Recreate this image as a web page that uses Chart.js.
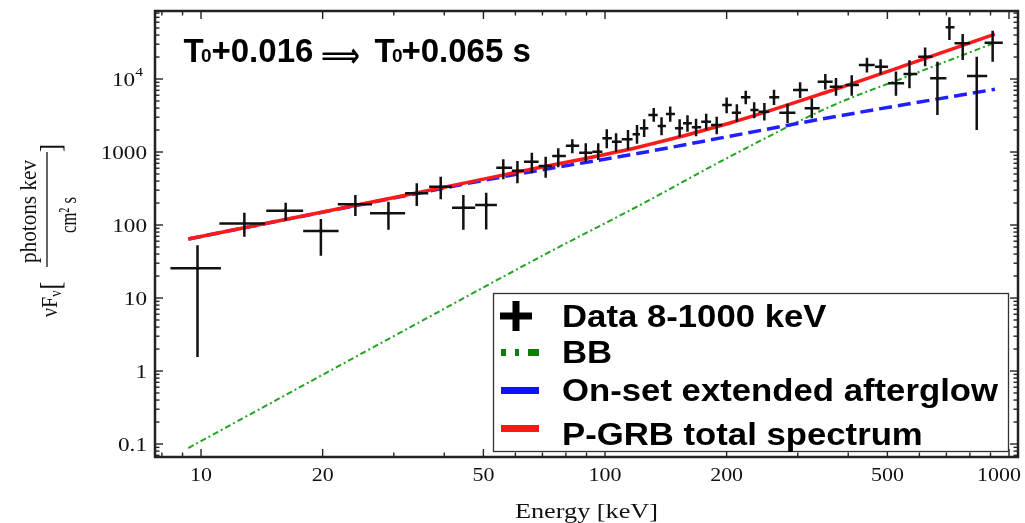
<!DOCTYPE html>
<html>
<head>
<meta charset="utf-8">
<script src="https://cdn.jsdelivr.net/npm/chart.js@4.4.1/dist/chart.umd.min.js"></script>
<style>
  html, body { margin: 0; padding: 0; background: #fff; }
  #c { display: block; }
</style>
</head>
<body>
<canvas id="c" width="1025" height="523"></canvas>
<script>
// measured spectrum (keV, nuFnu) with error bars
const energy   = [9.8, 12.8, 16.2, 19.8, 24.1, 29.1, 34.2, 39.2, 44.6, 50.8, 56.0, 60.7, 65.9, 71.3, 76.6, 83.0, 89.6, 96.2, 101, 106.5, 114, 120, 125, 132, 138, 145, 153, 160, 168, 178, 189, 200, 212, 223, 234, 248, 262, 283, 304, 325, 351, 373, 408, 445, 481, 525, 567, 620, 665, 712, 768, 832, 911];
const flux     = [25.5, 105, 157, 83, 192, 145, 272, 335, 173, 188, 609, 554, 736, 643, 881, 1222, 979, 1009, 1541, 1384, 1493, 1750, 2113, 3213, 2271, 3318, 2113, 2472, 2179, 2600, 2344, 4403, 3456, 5613, 3759, 3570, 5613, 3456, 7070, 3966, 9183, 7852, 8275, 15560, 14750, 8730, 11710, 20220, 10220, 51050, 30830, 10990, 31420];
const energyLo = [8.4, 11.1, 14.5, 17.9, 21.8, 26.2, 32.0, 36.7, 41.8, 47.7, 53.8, 58.8, 63.0, 68.5, 74.0, 80.0, 86.3, 93.0, 98.5, 104, 110, 117, 122, 128, 135, 141.5, 149, 156, 164, 173, 183, 195, 206, 217, 229, 240, 255, 270, 292, 312, 336, 360, 394, 425, 466, 502, 548, 596, 638, 697, 733, 787, 870];
const energyHi = [11.2, 14.4, 17.9, 21.9, 26.5, 32.0, 36.5, 41.8, 47.7, 54.0, 58.9, 63.0, 68.5, 74.0, 80.0, 86.3, 93.0, 98.5, 104, 110, 117, 122, 128, 135, 141.5, 149, 156, 164, 173, 183, 195, 206, 217, 229, 240, 255, 270, 296, 318, 340, 366, 387, 425, 465, 502, 550, 593, 647, 700, 733, 801, 883, 965];
const fluxLo   = [1.56, 69, 115, 38, 133, 86, 182, 225, 86, 87, 423, 372, 511, 444, 617, 960, 736, 777, 1124, 1009, 1070, 1300, 1600, 2600, 1700, 2600, 1600, 1900, 1650, 2000, 1750, 3400, 2600, 4500, 2900, 2700, 4400, 2500, 5500, 2900, 7200, 5900, 5900, 12300, 11500, 5900, 7500, 15000, 3213, 34200, 18200, 2000, 17270];
const fluxHi   = [53, 147, 202, 121, 258, 208, 372, 459, 258, 277, 794, 753, 977, 863, 1124, 1493, 1315, 1315, 2047, 1803, 2000, 2350, 2800, 4000, 3000, 4200, 2800, 3200, 2850, 3350, 3050, 5600, 4500, 6900, 4800, 4700, 7100, 4600, 9000, 5400, 11700, 10300, 11300, 19500, 18700, 12700, 18000, 27000, 17270, 69980, 41300, 20220, 45900];

// model curves
const bbEnergy  = [9.3, 32, 73.1, 122.2, 200, 360.5, 568.8, 923];
const bbFlux    = [0.0881, 3.65, 43.1, 188, 820, 4174, 11200, 31400];
const agEnergy  = [9.3, 31.8, 55, 122.2, 203.9, 360.5, 923];
const agFlux    = [64.3, 249.6, 451, 969, 1646, 2971, 7228];
const totEnergy = [9.3, 17.6, 31.8, 61.6, 122.2, 203.9, 360.5, 537.6, 923];
const totFlux   = [64.3, 130.7, 253.6, 540, 1183, 2500, 6850, 14560, 41320];

// axes
const xMajor  = [10, 20, 50, 100, 200, 500, 1000];
const xLabels = ['10', '20', '50', '100', '200', '500', '1000'];
const yMajor  = [0.1, 1, 10, 100, 1000, 10000];
const yLabels = ['0.1', '1', '10', '100', '1000', '10'];
const ySup    = ['', '', '', '', '', '4'];
const xMin = 7.692, xMax = 1052.6;
const yMin = 0.0664, yMax = 85430;

const legendItems = ['Data 8-1000 keV', 'BB', 'On-set extended afterglow', 'P-GRB total spectrum'];

const xMinor = [];
[1, 10, 100].forEach(d => { for (let m = 1; m < 10; m++) { const v = m * d; if (v > xMin && v < xMax && !xMajor.includes(v)) xMinor.push(v); } });
const yMinor = [];
[0.01, 0.1, 1, 10, 100, 1000, 10000].forEach(d => { for (let m = 2; m < 10; m++) { const v = m * d; if (v > yMin && v < yMax) yMinor.push(v); } });

const toXY = (xs, ys) => xs.map((x, i) => ({ x: x, y: ys[i] }));

// text drawn with horizontal stretch
function sText(ctx, txt, x, y, sx, align) {
  const m = ctx.measureText(txt).width * sx;
  const x0 = align === 'center' ? x - m / 2 : align === 'right' ? x - m : x;
  ctx.save();
  ctx.translate(x0, y);
  ctx.scale(sx, 1);
  ctx.textAlign = 'left';
  ctx.fillText(txt, 0, 0);
  ctx.restore();
  return m;
}
function fitText(ctx, txt, x, y, w) {
  const m = ctx.measureText(txt).width;
  return sText(ctx, txt, x, y, w / m, 'left');
}

const framePlugin = {
  id: 'frame',
  beforeDraw(chart) {
    const ctx = chart.ctx;
    ctx.save();
    ctx.fillStyle = '#fff';
    ctx.fillRect(0, 0, chart.width, chart.height);
    ctx.restore();
  },
  afterDatasetsDraw(chart) {
    // error bars
    const ctx = chart.ctx, xs = chart.scales.x, ys = chart.scales.y, a = chart.chartArea;
    ctx.save();
    ctx.beginPath();
    ctx.rect(a.left, a.top, a.right - a.left, a.bottom - a.top);
    ctx.clip();
    ctx.strokeStyle = '#111';
    ctx.lineWidth = 2.5;
    energy.forEach((e, i) => {
      const px = xs.getPixelForValue(e), py = ys.getPixelForValue(flux[i]);
      ctx.beginPath();
      ctx.moveTo(xs.getPixelForValue(energyLo[i]), py);
      ctx.lineTo(xs.getPixelForValue(energyHi[i]), py);
      ctx.moveTo(px, ys.getPixelForValue(fluxLo[i]));
      ctx.lineTo(px, ys.getPixelForValue(fluxHi[i]));
      ctx.stroke();
    });
    ctx.restore();
  },
  afterDraw(chart) {
    const ctx = chart.ctx, xs = chart.scales.x, ys = chart.scales.y, a = chart.chartArea;
    ctx.save();

    // frame
    ctx.strokeStyle = '#222';
    ctx.lineWidth = 2.5;
    ctx.strokeRect(a.left, a.top, a.right - a.left, a.bottom - a.top);

    // inward ticks on all four sides
    ctx.lineWidth = 1.4;
    const tick = (x1, y1, x2, y2) => { ctx.beginPath(); ctx.moveTo(x1, y1); ctx.lineTo(x2, y2); ctx.stroke(); };
    xMajor.concat(xMinor).forEach(v => {
      const px = xs.getPixelForValue(v), len = xMajor.includes(v) ? 8 : 4.5;
      tick(px, a.bottom, px, a.bottom - len);
      tick(px, a.top, px, a.top + len);
    });
    yMajor.concat(yMinor).forEach(v => {
      const py = ys.getPixelForValue(v), len = yMajor.includes(v) ? 8 : 4.5;
      tick(a.left, py, a.left + len, py);
      tick(a.right, py, a.right - len, py);
    });

    // tick labels
    ctx.fillStyle = '#111';
    ctx.textBaseline = 'alphabetic';
    ctx.font = '18px "Liberation Serif"';
    xMajor.forEach((v, i) => {
      const w = ctx.measureText(xLabels[i]).width * 1.22;
      const cx = Math.min(xs.getPixelForValue(v), chart.width - 4 - w / 2);
      sText(ctx, xLabels[i], cx, 481, 1.22, 'center');
    });
    yMajor.forEach((v, i) => {
      const py = ys.getPixelForValue(v);
      let right = 147;
      if (ySup[i]) {
        ctx.font = '13px "Liberation Serif"';
        right -= sText(ctx, ySup[i], 143, py - 3, 1.2, 'right') + 4;
      }
      ctx.font = '19px "Liberation Serif"';
      sText(ctx, yLabels[i], right, py + 6.5, 1.22, 'right');
    });

    // x axis title
    ctx.font = '21px "Liberation Serif"';
    sText(ctx, 'Energy [keV]', (a.left + a.right) / 2, 518, 1.25, 'center');

    // y axis title (rotated, with fraction)
    ctx.save();
    ctx.rotate(-Math.PI / 2);
    ctx.scale(1, 1.2);
    const k = 1 / 1.2;
    ctx.font = '20px "Liberation Serif"';
    let u = -317;
    u += ctx.measureText('νF').width; ctx.fillText('νF', -317, 57 * k);
    ctx.font = '14px "Liberation Serif"';
    ctx.fillText('ν', u, 61 * k); u += ctx.measureText('ν').width + 1;
    ctx.font = '24px "Liberation Serif"';
    ctx.fillText('[', u, 60 * k);
    ctx.font = '20px "Liberation Serif"';
    fitText(ctx, 'photons kev', -263, 36 * k, 103);
    fitText(ctx, 'cm² s', -233, 76 * k, 36);
    ctx.font = '24px "Liberation Serif"';
    ctx.fillText(']', -152, 60 * k);
    ctx.restore();
    ctx.strokeStyle = '#111';
    ctx.lineWidth = 1.3;
    tick(47, 267, 47, 152);

    // time interval label
    ctx.fillStyle = '#000';
    ctx.font = 'bold 33px "Liberation Sans"';
    ctx.fillText('T', 183.5, 62);
    ctx.fillText('+0.016', 211.5, 62);
    ctx.fillText('T', 374.5, 62);
    ctx.fillText('+0.065 s', 401.4, 62);
    ctx.font = 'bold 19px "Liberation Sans"';
    ctx.fillText('0', 201, 62);
    ctx.fillText('0', 392, 62);
    ctx.font = 'bold 34px "DejaVu Sans"';
    fitText(ctx, '⟹', 321, 67, 39);

    // legend
    ctx.fillStyle = '#fff';
    ctx.fillRect(493, 293, 516, 159);
    ctx.strokeStyle = '#333';
    ctx.lineWidth = 1.3;
    ctx.strokeRect(493.5, 293.5, 515, 158);
    ctx.fillStyle = '#000';
    ctx.lineWidth = 7;
    ctx.strokeStyle = '#000';
    tick(500, 316, 532, 316);
    tick(516, 301, 516, 331);
    ctx.fillStyle = '#0a800a';
    ctx.fillRect(501, 349, 5, 7);
    ctx.fillRect(515, 349, 4, 7);
    ctx.fillRect(528, 349, 11, 7);
    ctx.fillStyle = '#1010ff';
    ctx.fillRect(501, 387, 38, 7);
    ctx.fillStyle = '#ff1515';
    ctx.fillRect(501, 425, 38, 7);
    ctx.fillStyle = '#000';
    ctx.font = 'bold 32px "Liberation Sans"';
    [327, 363, 401, 445].forEach((y, i) => sText(ctx, legendItems[i], 562, y, 1.085, 'left'));

    ctx.restore();
  }
};

new Chart(document.getElementById('c'), {
  type: 'scatter',
  data: {
    datasets: [
      { label: legendItems[0], data: toXY(energy, flux), pointRadius: 1.8, backgroundColor: '#000', borderWidth: 0 },
      { label: legendItems[3], data: toXY(totEnergy, totFlux), showLine: true, borderColor: '#ff1a1a', borderWidth: 3.5, pointRadius: 0, cubicInterpolationMode: 'monotone' },
      { label: legendItems[2], data: toXY(agEnergy, agFlux), showLine: true, borderColor: '#2020ff', borderWidth: 3.5, borderDash: [13, 6], pointRadius: 0, cubicInterpolationMode: 'monotone' },
      { label: legendItems[1], data: toXY(bbEnergy, bbFlux), showLine: true, borderColor: '#22a322', borderWidth: 2, borderDash: [6, 3, 2, 3], pointRadius: 0, cubicInterpolationMode: 'monotone' }
    ]
  },
  options: {
    responsive: false,
    animation: false,
    devicePixelRatio: 1,
    layout: { padding: { top: 11, right: 7, left: 0, bottom: 0 } },
    plugins: { legend: { display: false }, tooltip: { enabled: false } },
    scales: {
      x: {
        type: 'logarithmic', position: 'bottom', min: xMin, max: xMax,
        grid: { display: false, drawTicks: false }, border: { display: false },
        ticks: { display: false },
        afterFit(s) { s.height = 66; }
      },
      y: {
        type: 'logarithmic', position: 'left', min: yMin, max: yMax,
        grid: { display: false, drawTicks: false }, border: { display: false },
        ticks: { display: false },
        afterFit(s) { s.width = 155; }
      }
    }
  },
  plugins: [framePlugin]
});
</script>
</body>
</html>
